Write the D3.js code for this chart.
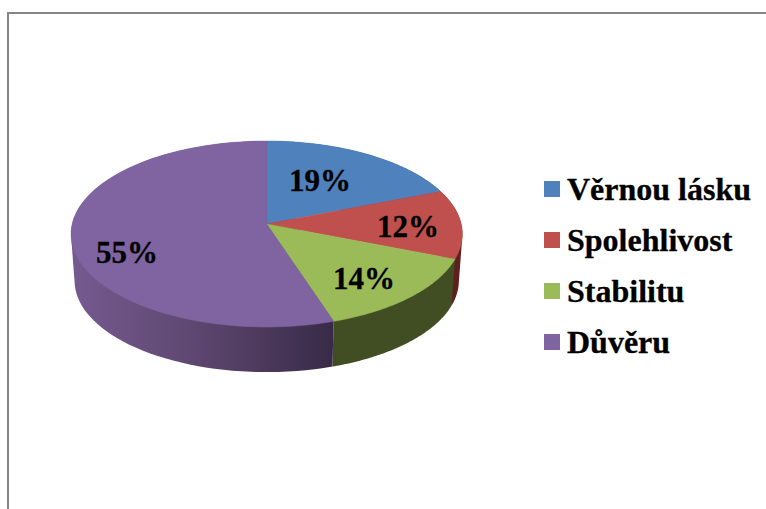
<!DOCTYPE html>
<html>
<head>
  <meta charset="utf-8">
  <style type="text/css">
    html, body { margin: 0; padding: 0; background: #fff; }
    svg { display: block; }
    text { font-family: "Liberation Serif", serif; font-weight: bold; fill: #000; stroke: #000; stroke-width: 0.3px; }
  </style>
  <script src="https://d3js.org/d3.v7.min.js"></script>
</head>
<body>
  <div id="chart"></div>
  <script type="text/javascript">
    var categories = ["Věrnou lásku", "Spolehlivost", "Stabilitu", "Důvěru"];
    var values = [19, 12, 14, 55];
    var labels = ["19%", "12%", "14%", "55%"];
    var topColors = ["#4f81bd", "#c0504d", "#9bbb59", "#8064a2"];
    var sideColors = ["#2a4565", "#5e1f1d", "#414d23", "url(#purpleSide)"];

    var width = 766, height = 509;

    // perspective of the disc
    var cx = 266.7, apexY = 224, radiusX = 194.5, radiusY = 91.9, tilt = 0.1076;
    var depth = 47, shrink = 0.982;

    // label anchors are hand placed like the office chart does
    var labelX = [320, 408, 364, 127];
    var labelY = [191, 237, 289, 263];

    var svg = d3.select("#chart").append("svg")
      .attr("width", width)
      .attr("height", height);

    // frame, only top and left show
    svg.append("path")
      .attr("d", "M8,509V13H766")
      .attr("fill", "none")
      .attr("stroke", "#868686")
      .attr("stroke-width", 2);

    var grad = svg.append("defs").append("linearGradient")
      .attr("id", "purpleSide")
      .attr("gradientUnits", "userSpaceOnUse")
      .attr("x1", 71).attr("x2", 335).attr("y1", 0).attr("y2", 0);
    grad.append("stop").attr("offset", "0%").attr("stop-color", "#755a90");
    grad.append("stop").attr("offset", "45%").attr("stop-color", "#5f4871");
    grad.append("stop").attr("offset", "100%").attr("stop-color", "#382a47");

    function project(a, r, lower) {
      var u = r * Math.sin(a), v = -r * Math.cos(a);
      var w = 1 - tilt * v;
      var s = lower ? shrink : 1;
      return [cx + s * radiusX * u / w, apexY + (lower ? depth : 0) + s * radiusY * v / w];
    }

    function arcPoints(d, lower) {
      var step = (d.endAngle - d.startAngle) / 80;
      return d3.range(81).map(function(i) {
        return project(d.startAngle + i * step, 1, lower);
      });
    }

    var pie = d3.pie().sort(null);
    var slices = pie(values);
    var line = d3.line();

    // side walls first, the top face covers what is behind
    // hull gives the straight tangent edge at the far left
    svg.append("g").selectAll("path")
      .data(slices)
      .enter().append("path")
      .attr("d", function(d) {
        return line(d3.polygonHull(arcPoints(d, false).concat(arcPoints(d, true)))) + "Z";
      })
      .attr("fill", function(d, i) { return sideColors[i]; });

    // thin stroke in the same colour closes the seams between slices
    svg.append("g").selectAll("path")
      .data(slices)
      .enter().append("path")
      .attr("d", function(d) {
        return line([project(0, 0, false)].concat(arcPoints(d, false))) + "Z";
      })
      .attr("fill", function(d, i) { return topColors[i]; })
      .attr("stroke", function(d, i) { return topColors[i]; })
      .attr("stroke-width", 0.5);

    svg.append("g").selectAll("text")
      .data(labels)
      .enter().append("text")
      .attr("x", function(d, i) { return labelX[i]; })
      .attr("y", function(d, i) { return labelY[i]; })
      .attr("text-anchor", "middle")
      .style("font-size", "31px")
      .text(function(d) { return d; });

    // legend
    var legendY = d3.scalePoint().domain(categories).range([189, 342]);
    var legend = svg.append("g").selectAll("g")
      .data(categories)
      .enter().append("g")
      .attr("transform", function(d) { return "translate(544," + legendY(d) + ")"; });

    legend.append("rect")
      .attr("y", -8)
      .attr("width", 16)
      .attr("height", 16)
      .attr("fill", function(d, i) { return topColors[i]; });

    legend.append("text")
      .attr("x", 23)
      .attr("y", 11)
      .style("font-size", "32px")
      .text(function(d) { return d; });
  </script>
</body>
</html>
